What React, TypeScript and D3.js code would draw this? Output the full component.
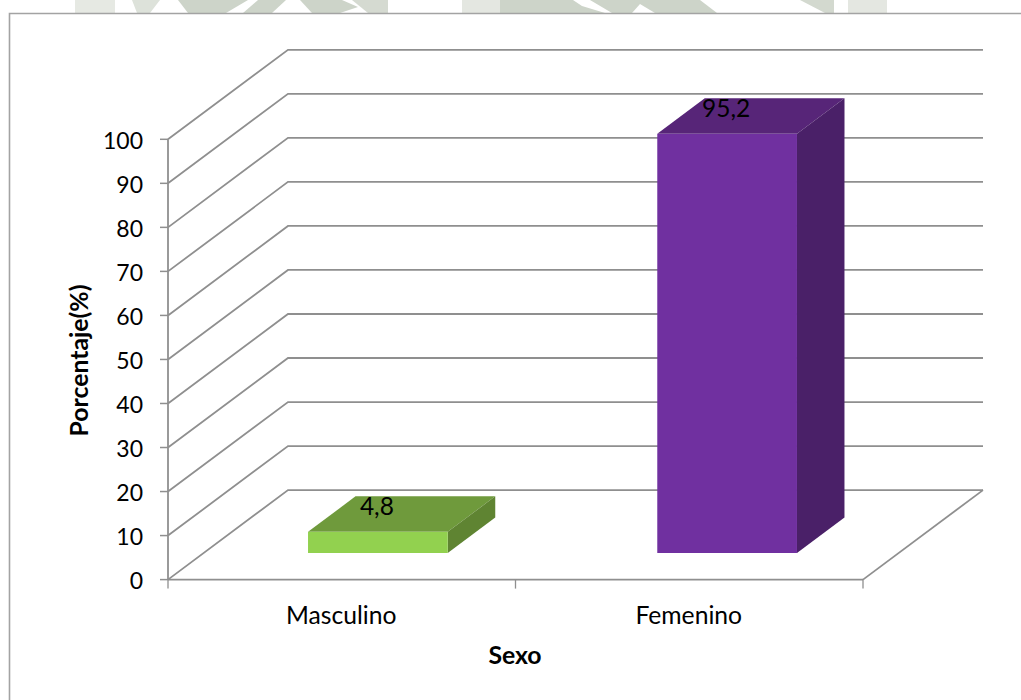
import React from "react";
import * as d3 from "d3";

const categories = ["Masculino", "Femenino"];
const values = [4.8, 95.2];
const yTicks = [0, 10, 20, 30, 40, 50, 60, 70, 80, 90, 100];
const barFronts = ["#92d14f", "#7030a0"];
const barTops = ["#6f9a3c", "#572578"];
const barSides = ["#5f8432", "#4a2068"];
const wash = [
  { d: "M75 0 H115 V13 H75Z", fill: "#e6e9e3" },
  { d: "M132 0 H160 L150 13 H137Z", fill: "#dde2da" },
  { d: "M178 0 H248 L226 13 H188Z", fill: "#cdd4c9" },
  { d: "M258 0 H286 L272 13 H243Z", fill: "#cdd4c9" },
  { d: "M300 0 H342 L358 7 L340 13 H312Z", fill: "#cdd4c9" },
  { d: "M352 0 H388 V13 H368Z", fill: "#d5dad1" },
  { d: "M462 0 H500 V13 H462Z", fill: "#e4e7e1" },
  { d: "M500 0 H573 L582 6 L605 13 H500Z", fill: "#cdd4c9" },
  { d: "M590 0 H700 L717 13 H655 L640 4 L632 13 H612Z", fill: "#cdd4c9" },
  { d: "M800 0 H834 V13 H825Z", fill: "#d3d9cf" },
  { d: "M848 0 H887 V13 H848Z", fill: "#e4e7e1" },
];

const FONT = "Lato, 'Open Sans', sans-serif";
const GRID = "#8f8f8f";

export default function App() {
  const x0 = 168, x1 = 863, yBase = 579.6, yTop = 139.3;
  const depthX = 120, depthY = 89.5;
  const y = d3.scaleLinear().domain([0, 100]).range([yBase, yTop]);
  const band = d3.scaleBand<string>().domain(categories).range([x0, x1]).paddingInner(0.6).paddingOuter(0.295);
  const line = d3.line<[number, number]>();
  const barOffX = 37, barOffY = 26.6;
  const barDX = 47.5, barDY = 35.5;
  const boundaries = [x0, (x0 + x1) / 2, x1];

  return (
    <svg width={1021} height={700} style={{ position: "fixed", left: 0, top: 0, background: "#fff" }}>
      {wash.map((s, i) => (
        <path key={i} d={s.d} fill={s.fill} />
      ))}
      <path d="M9.5 700 V13.5 H1021" fill="none" stroke="#a3a3a3" strokeWidth={1.6} />

      {yTicks.map((t) => (
        <path
          key={t}
          d={line([[x0, y(t)], [x0 + depthX, y(t) - depthY], [x0 + depthX + (x1 - x0), y(t) - depthY]])!}
          fill="none"
          stroke={GRID}
          strokeWidth={1.8}
        />
      ))}
      <path d={line([[x1 + depthX, yBase - depthY], [x1, yBase]])!} fill="none" stroke={GRID} strokeWidth={1.8} />

      <path d={line([[x0, yTop], [x0, yBase]])!} stroke={GRID} strokeWidth={1.8} fill="none" />
      <path d={line([[x0, yBase], [x1, yBase]])!} stroke={GRID} strokeWidth={1.8} fill="none" />
      {yTicks.map((t) => (
        <g key={t}>
          <line x1={x0 - 8} x2={x0} y1={y(t)} y2={y(t)} stroke={GRID} strokeWidth={1.5} />
          <text x={x0 - 25} y={y(t) + 1.5} dy="0.36em" textAnchor="end" fontFamily={FONT} fontSize={23} fill="#000">
            {t}
          </text>
        </g>
      ))}
      {boundaries.map((b) => (
        <line key={b} x1={b} x2={b} y1={yBase} y2={yBase + 9} stroke={GRID} strokeWidth={1.3} />
      ))}

      {categories.map((c, i) => {
        const left = band(c)! + barOffX;
        const right = left + band.bandwidth();
        const bottom = y(0) - barOffY;
        const top = bottom - (y(0) - y(values[i]));
        return (
          <g key={c}>
            <path d={line([[left, top], [right, top], [right + barDX, top - barDY], [left + barDX, top - barDY]])! + "Z"} fill={barTops[i]} />
            <path d={line([[right, top], [right + barDX, top - barDY], [right + barDX, bottom - barDY], [right, bottom]])! + "Z"} fill={barSides[i]} />
            <rect x={left} y={top} width={right - left} height={bottom - top} fill={barFronts[i]} />
            <text x={(left + right) / 2 - 1} y={top - barDY + 9.5} dy="0.36em" textAnchor="middle" fontFamily={FONT} fontSize={24.5} fill="#000">
              {String(values[i]).replace(".", ",")}
            </text>
            <text x={boundaries[i] + (boundaries[i + 1] - boundaries[i]) / 2 - 0.5} y={615} dy="0.36em" textAnchor="middle" fontFamily={FONT} fontSize={24.7} fill="#000">
              {c}
            </text>
          </g>
        );
      })}

      <text x={515} y={655} dy="0.36em" textAnchor="middle" fontFamily={FONT} fontSize={24.8} fontWeight={700} fill="#000">
        Sexo
      </text>
      <text transform="translate(79,360.5) rotate(-90)" dy="0.36em" textAnchor="middle" fontFamily={FONT} fontSize={24.8} fontWeight={700} fill="#000">
        Porcentaje(%)
      </text>
    </svg>
  );
}
